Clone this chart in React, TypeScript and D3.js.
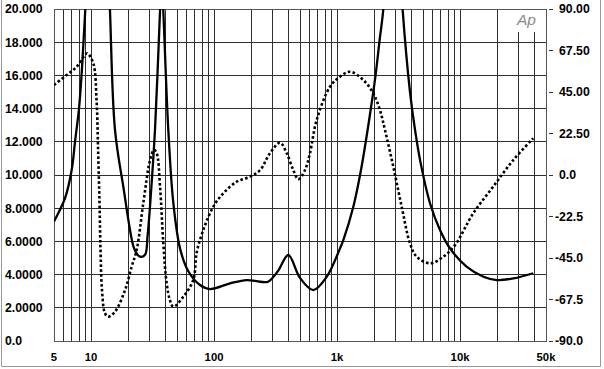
import { useRef, useEffect } from "react";
import * as d3 from "d3";

// impedance magnitude (ohms, left axis), solid
const magFreq = [5, 5.5, 6.15, 6.96, 7.41, 7.98, 8.37, 8.68, 9.02, 9.8, 11.2, 12.9, 14.26, 15.67, 18.3, 22.1, 23.5, 25.0, 27.5, 28.8, 30.5, 33.1, 36.4, 37.5, 38.7, 42.5, 46.7, 52.9, 61.8, 76.9, 92.8, 135, 184, 237, 275, 330, 402, 500, 641, 824, 1058, 1125, 1357, 1566, 1797, 2040, 2234, 2380, 2850, 3420, 3920, 4310, 4790, 5700, 6870, 8290, 11300, 15500, 19900, 27200, 39400];
const magValue = [7.2, 7.8, 8.6, 10.3, 12, 14, 16, 18, 20.3, 30, 40, 30, 19.9, 12.7, 9.3, 5.7, 5.28, 5.08, 5.2, 6.3, 8.6, 12.7, 19.9, 22, 19.9, 12.7, 8.3, 5.58, 4.2, 3.37, 3.13, 3.47, 3.67, 3.57, 3.57, 4.2, 5.18, 3.8, 3.07, 3.87, 5.58, 6.08, 8.09, 10.3, 13.0, 15.8, 18.3, 20, 30, 19.9, 15.0, 12.7, 10.7, 8.3, 6.69, 5.58, 4.48, 3.87, 3.67, 3.77, 4.08];

// phase (degrees, right axis), dotted
const phaseFreq = [5, 6.34, 7.65, 8.93, 9.32, 10.43, 11.1, 11.4, 11.72, 11.94, 12.27, 13.0, 13.82, 15.67, 18.9, 21.4, 23.5, 26.6, 30.2, 32.5, 34.2, 36.4, 38.7, 41.2, 43.8, 46.7, 56.3, 67.8, 72.3, 81.8, 98.6, 119, 153, 196, 237, 285, 344, 390, 441, 484, 549, 602, 683, 877, 1057, 1275, 1635, 1972, 2234, 2454, 2867, 3356, 3918, 4444, 5700, 7315, 9100, 12800, 18600, 27100, 39400];
const phaseValue = [48.8, 54.2, 58.7, 65.1, 66.0, 60.6, 40, 15, -15, -40, -62, -75, -76.8, -74.1, -62.4, -49.7, -40.7, -15.3, 8.1, 13.6, 11.8, -6.3, -37, -58.7, -67.8, -71.4, -66, -56.9, -42, -29.8, -17.2, -9.9, -3.6, -0.9, 2.7, 11.8, 17.5, 11.8, 2.7, -2.3, 2.7, 11.8, 29.8, 47.9, 53.3, 56.0, 51.5, 44.3, 35.2, 24.4, 4.5, -17.2, -37, -44.3, -47.9, -44.3, -38, -20.8, -6.3, 8.1, 19.9];

const leftTicks = [20, 18, 16, 14, 12, 10, 8, 6, 4, 2, 0];
const leftLabels = ["20.000", "18.000", "16.000", "14.000", "12.000", "10.000", "8.0000", "6.0000", "4.0000", "2.0000", "0.0"];
const rightTicks = [90, 67.5, 45, 22.5, 0, -22.5, -45, -67.5, -90];
const rightLabels = ["90.00", "67.50", "45.00", "22.50", "0.0", "-22.5", "-45.0", "-67.5", "-90.0"];
const xTicks = [5, 10, 100, 1000, 10000, 50000];
const xLabels = ["5", "10", "100", "1k", "10k", "50k"];

const W = 604;
const H = 369;
const FONT = "'Liberation Sans', Arial, Helvetica, sans-serif";

export default function App() {
  const ref = useRef<SVGSVGElement>(null);

  useEffect(() => {
    if (!ref.current) return;
    const svg = d3.select(ref.current);
    svg.selectAll("*").remove();

    const left = 54, right = 546, top = 9, bottom = 341;
    const x = d3.scaleLog().domain([5, 50000]).range([left, right]);
    const yL = d3.scaleLinear().domain([0, 20]).range([bottom, top]);
    const yR = d3.scaleLinear().domain([-90, 90]).range([bottom, top]);

    svg.append("rect").attr("width", W).attr("height", H).attr("fill", "#fff");

    // outer border (left, right, bottom)
    svg.append("path")
      .attr("d", `M1.5,0 V366.5 H600.5 V0`)
      .attr("fill", "none")
      .attr("stroke", "#999")
      .attr("stroke-width", 1);

    // vertical grid: 1..9 per decade
    const vLines: number[] = [];
    for (const d of [1, 10, 100, 1000, 10000]) {
      for (let k = 1; k <= 9; k++) {
        const f = k * d;
        if (f > 5 && f < 50000) vLines.push(f);
      }
    }
    const grid = svg.append("g").attr("stroke", "#2e2e2e").attr("shape-rendering", "crispEdges");
    grid.selectAll("line.v")
      .data(vLines)
      .join("line")
      .attr("x1", (d) => x(d))
      .attr("x2", (d) => x(d))
      .attr("y1", (d) => (d >= 30000 ? 32 : top))
      .attr("y2", bottom);
    grid.selectAll("line.h")
      .data(leftTicks)
      .join("line")
      .attr("x1", left)
      .attr("x2", right)
      .attr("y1", (d) => yL(d))
      .attr("y2", (d) => yL(d));
    // plot frame
    svg.append("rect")
      .attr("x", left).attr("y", top)
      .attr("width", right - left).attr("height", bottom - top)
      .attr("fill", "none").attr("stroke", "#555")
      .attr("shape-rendering", "crispEdges");

    // right axis tick dashes
    svg.append("g").attr("stroke", "#333").attr("shape-rendering", "crispEdges")
      .selectAll("line")
      .data(rightTicks)
      .join("line")
      .attr("x1", 549).attr("x2", 553)
      .attr("y1", (d) => yR(d)).attr("y2", (d) => yR(d));

    // Ap logo
    svg.append("text")
      .attr("x", 517).attr("y", 25)
      .attr("font-family", FONT).attr("font-style", "italic")
      .attr("font-size", 15.5).attr("fill", "#8a8a8a")
      .text("Ap");

    // curves
    svg.append("clipPath").attr("id", "plotClip")
      .append("rect").attr("x", left).attr("y", top)
      .attr("width", right - left).attr("height", bottom - top);

    const magLine = d3.line<number>()
      .x((_, i) => x(magFreq[i]))
      .y((d) => yL(d))
      .curve(d3.curveCatmullRom.alpha(0.5));
    const phaseLine = d3.line<number>()
      .x((_, i) => x(phaseFreq[i]))
      .y((d) => yR(d))
      .curve(d3.curveCatmullRom.alpha(0.5));

    const curves = svg.append("g").attr("clip-path", "url(#plotClip)");
    curves.append("path")
      .attr("d", phaseLine(phaseValue))
      .attr("fill", "none").attr("stroke", "#000")
      .attr("stroke-width", 2.6)
      .attr("stroke-dasharray", "2.6,2.3");
    curves.append("path")
      .attr("d", magLine(magValue))
      .attr("fill", "none").attr("stroke", "#000")
      .attr("stroke-width", 2.3);

    // left labels
    svg.append("g")
      .attr("font-family", FONT).attr("font-weight", "bold").attr("font-size", 12.3)
      .attr("fill", "#000")
      .selectAll("text")
      .data(leftTicks)
      .join("text")
      .attr("x", 5)
      .attr("y", (d) => yL(d) + 4.4)
      .text((_, i) => leftLabels[i]);

    // right labels
    svg.append("g")
      .attr("font-family", FONT).attr("font-weight", "bold").attr("font-size", 12.3)
      .attr("fill", "#000")
      .selectAll("text")
      .data(rightTicks)
      .join("text")
      .attr("x", (_, i) => (rightLabels[i].startsWith("-") ? 555 : 559))
      .attr("y", (d) => yR(d) + 4.4)
      .text((_, i) => rightLabels[i]);

    // x labels
    svg.append("g")
      .attr("font-family", FONT).attr("font-weight", "bold").attr("font-size", 11.3)
      .attr("fill", "#000").attr("text-anchor", "middle")
      .selectAll("text")
      .data(xTicks)
      .join("text")
      .attr("x", (d) => x(d))
      .attr("y", 361)
      .text((_, i) => xLabels[i]);
  }, []);

  return (
    <div style={{ position: "absolute", left: 0, top: 0 }}>
      <svg ref={ref} width={W} height={H} style={{ display: "block" }} />
    </div>
  );
}
